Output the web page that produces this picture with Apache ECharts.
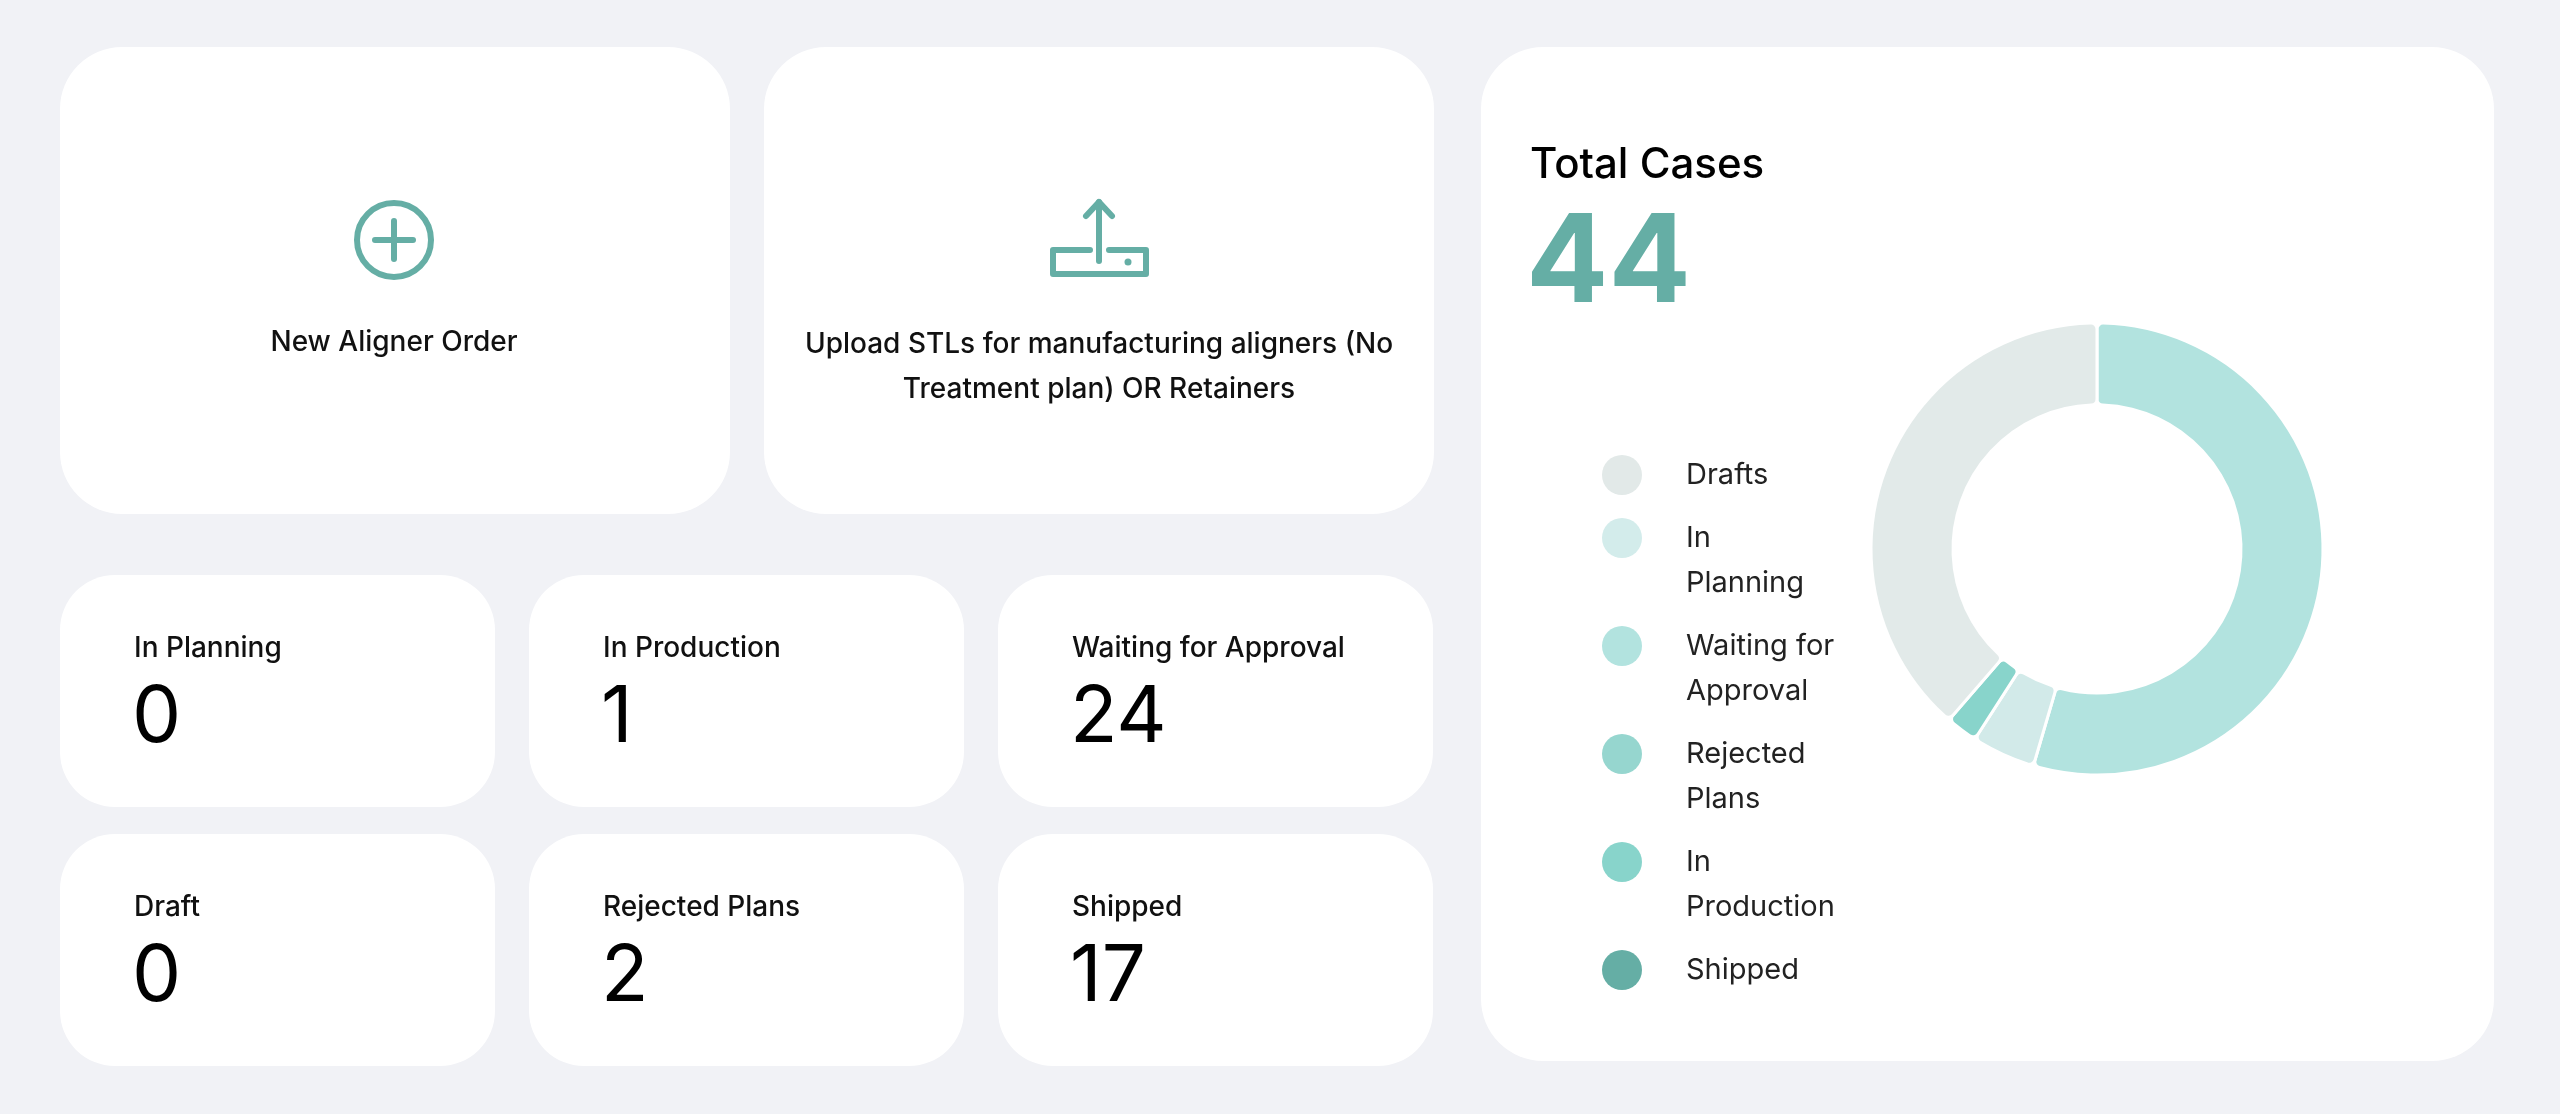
<!DOCTYPE html>
<html><head><meta charset="utf-8">
<style>html,body{margin:0;padding:0;background:#f1f2f6;}#c{width:2560px;height:1114px;}</style>
<script src="https://cdn.jsdelivr.net/npm/echarts@6/dist/echarts.min.js"></script>
</head><body><div id="c"></div>
<script>
// Data
var statLabels = ['In Planning','In Production','Waiting for Approval','Draft','Rejected Plans','Shipped'];
var statValues = [0,1,24,0,2,17];
var pieNames = ['Drafts','In Planning','Waiting for Approval','Rejected Plans','In Production','Shipped'];
var pieValues = [0,0,24,2,1,17];
var sliceColors = ['#e2e9e8','#d3eceb','#b2e3df','#d2eae9','#88d4cb','#e2eae9'];
var legendLines = [['Drafts'],['In','Planning'],['Waiting for','Approval'],['Rejected','Plans'],['In','Production'],['Shipped']];
var legendColors = ['#e2e9e8','#d3eceb','#b2e3df','#96d6cf','#88d4cb','#65aea5'];
var totalCases = 44;

var FONT = 'Inter, "Noto Sans", sans-serif';
var TEAL = '#65aea5';
var g = [];
function card(x,y,w,h,r){ g.push({type:'rect',shape:{x:x,y:y,width:w,height:h,r:r},style:{fill:'#fff'},z:0}); }
function txt(x,y,s,size,weight,color,align,extra){ var o={type:'text',x:x,y:y,style:{text:s,font:weight+' '+size+'px '+FONT,fill:color||'#111',textAlign:align||'left',textVerticalAlign:'middle'},z:2}; g.push(o); }

card(60,47,670,467,62); card(764,47,670,467,62);
card(1481,47,1013,1014,62);
var cx=[60,529,998], cy=[575,834];
for(var i=0;i<6;i++){
  var x=cx[i%3], y=cy[Math.floor(i/3)];
  card(x,y,435,232,55);
  txt(x+74,y+74,statLabels[i],28,'500','#111');
  txt(x+72,y+144,String(statValues[i]),78,'400','#000');
}
// icons
g.push({type:'circle',shape:{cx:394,cy:240,r:37},style:{fill:'none',stroke:TEAL,lineWidth:6},z:2});
g.push({type:'line',shape:{x1:394,y1:221,x2:394,y2:259},style:{stroke:TEAL,lineWidth:6,lineCap:'round'},z:2});
g.push({type:'line',shape:{x1:375,y1:240,x2:413,y2:240},style:{stroke:TEAL,lineWidth:6,lineCap:'round'},z:2});
txt(394,343,'New Aligner Order',28,'500','#111','center');
g.push({type:'polyline',shape:{points:[[1090,250],[1053,250],[1053,274],[1146,274],[1146,250],[1109,250]]},style:{fill:'none',stroke:TEAL,lineWidth:6,lineCap:'round',lineJoin:'round'},z:2});
g.push({type:'line',shape:{x1:1099,y1:202,x2:1099,y2:261},style:{stroke:TEAL,lineWidth:6,lineCap:'round'},z:2});
g.push({type:'polyline',shape:{points:[[1086,216],[1099,202],[1112,216]]},style:{fill:'none',stroke:TEAL,lineWidth:6,lineCap:'round',lineJoin:'round'},z:2});
g.push({type:'circle',shape:{cx:1128,cy:262,r:3.5},style:{fill:TEAL},z:2});
txt(1099,345,'Upload STLs for manufacturing aligners (No',28,'500','#111','center');
txt(1099,390,'Treatment plan) OR Retainers',28,'500','#111','center');
// total
txt(1530,165,'Total Cases',42,'500','#000');
txt(1526,265,String(totalCases),122,'700',TEAL);
// legend
var ly=475;
for(var k=0;k<legendLines.length;k++){
  g.push({type:'circle',shape:{cx:1622,cy:ly,r:20},style:{fill:legendColors[k]},z:2});
  for(var j=0;j<legendLines[k].length;j++){
    txt(1686,ly+j*45,legendLines[k][j],29,'400','#222');
  }
  ly += (legendLines[k].length-1)*45 + 63;
}

var pieData = pieNames.map(function(n,i){
  return {name:n,value:pieValues[i],itemStyle:{color:sliceColors[i],borderWidth:pieValues[i]?3:0}};
});
var chart = echarts.init(document.getElementById('c'));
chart.setOption({
  animation:false,
  graphic:g,
  series:[{type:'pie',center:[2097,549],radius:[144,226],startAngle:90,clockwise:true,
    label:{show:false},labelLine:{show:false},silent:true,
    itemStyle:{borderColor:'#fff',borderRadius:6},z:3,
    data:pieData}]
});
</script></body></html>
